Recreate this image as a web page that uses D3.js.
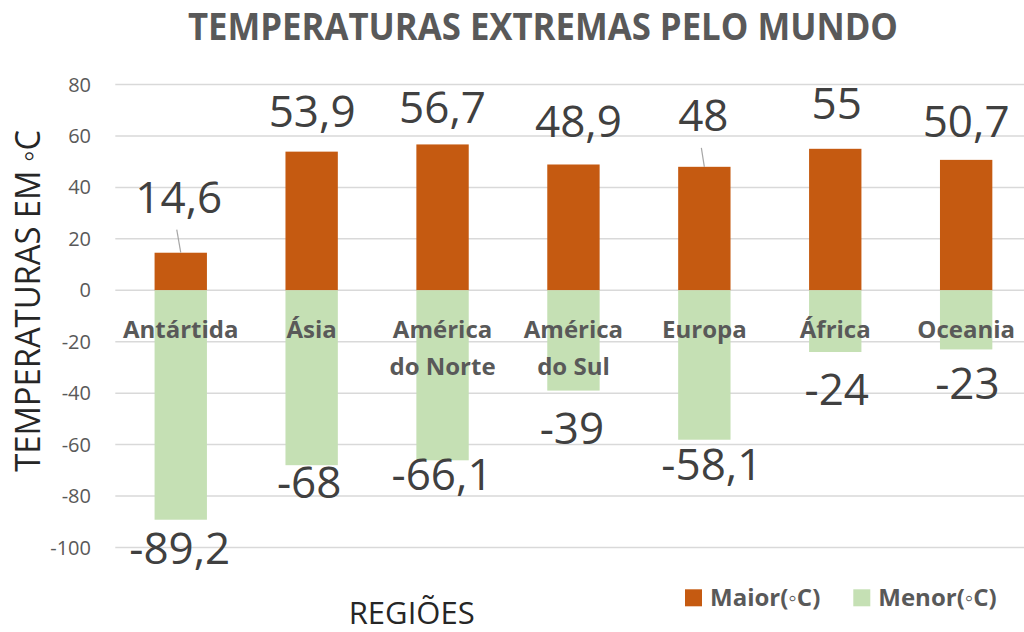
<!DOCTYPE html>
<html>
<head>
<meta charset="utf-8">
<script src="https://cdn.jsdelivr.net/npm/d3@7"></script>
<style>
  html, body { margin: 0; padding: 0; background: #fff; }
  svg { display: block; font-family: "Open Sans", sans-serif; }
</style>
</head>
<body>
<svg id="chart" width="1024" height="632"></svg>
<script>
// ---- data ----
const categories = ["Antártida", "Ásia", "América do Norte", "América do Sul", "Europa", "África", "Oceania"];
const maior = [14.6, 53.9, 56.7, 48.9, 48, 55, 50.7];
const menor = [-89.2, -68, -66.1, -39, -58.1, -24, -23];
const yTicks = [-100, -80, -60, -40, -20, 0, 20, 40, 60, 80];
const seriesNames = ["Maior(◦C)", "Menor(◦C)"];
const titleText = "TEMPERATURAS EXTREMAS PELO MUNDO";
const yTitle = "TEMPERATURAS EM ◦C";
const xTitle = "REGIÕES";

// ---- layout (manual data-label placement, as in the original) ----
const posDy = [40, 24.5, 21.5, 27.5, 36, 29.5, 22.5];
const posDx = [-2, 0.5, 0, 5, -1, 1.5, 0];
const negDy = [44.5, 33, 30, 53, 40, 53, 50];
const negDx = [-1, -2.5, -0.5, -1.5, 7.5, 1.5, 1.3];

const colors = { maior: "#C55A11", menor: "#C5E0B4", grid: "#D9D9D9", axisText: "#595959", label: "#404040" };
const loc = d3.formatLocale({ decimal: ",", thousands: ".", grouping: [3], currency: ["", ""], minus: "-" });
const fmt = v => loc.format("")(v);

const svg = d3.select("#chart");
const x = d3.scaleBand().domain(categories).range([115.3, 1031.6]).paddingInner(0.6).paddingOuter(0.3);
const y = d3.scaleLinear().domain([-100, 80]).range([547.5, 84.5]);

// gridlines
svg.append("g").selectAll("line").data(yTicks).join("line")
  .attr("x1", 115.3).attr("x2", 1031.6)
  .attr("y1", d => y(d)).attr("y2", d => y(d))
  .attr("stroke", colors.grid).attr("stroke-width", 1.5);

// y tick labels
svg.append("g").selectAll("text").data(yTicks).join("text")
  .attr("x", 91).attr("y", d => y(d)).attr("dy", "0.35em")
  .attr("text-anchor", "end").attr("font-size", 20).attr("fill", colors.axisText)
  .text(d => d);

// bars
svg.append("g").selectAll("rect").data(maior).join("rect")
  .attr("x", (d, i) => x(categories[i])).attr("width", x.bandwidth())
  .attr("y", d => y(d)).attr("height", d => y(0) - y(d))
  .attr("fill", colors.maior);
svg.append("g").selectAll("rect").data(menor).join("rect")
  .attr("x", (d, i) => x(categories[i])).attr("width", x.bandwidth())
  .attr("y", y(0)).attr("height", d => y(d) - y(0))
  .attr("fill", colors.menor);

// category labels (at the zero line)
const catG = svg.append("g");
categories.forEach(c => {
  const words = c.split(" ");
  const lines = words.length > 1 ? [words[0], words.slice(1).join(" ")] : [c];
  const t = catG.append("text").attr("text-anchor", "middle")
    .attr("font-size", 24).attr("font-weight", "bold").attr("fill", colors.axisText);
  lines.forEach((ln, k) => {
    t.append("tspan").attr("x", x(c) + x.bandwidth() / 2).attr("y", 338.3 + k * 36.7).text(ln);
  });
});

// data labels
const cx = i => x(categories[i]) + x.bandwidth() / 2;
const lblG = svg.append("g");
maior.forEach((v, i) => {
  const bx = cx(i), by = y(v);
  const lx = bx + posDx[i], ly = by - posDy[i];
  if (posDy[i] > 32) {
    lblG.append("line").attr("x1", lx - 2).attr("y1", ly + 17).attr("x2", bx).attr("y2", by)
      .attr("stroke", "#A6A6A6").attr("stroke-width", 1.2);
  }
  lblG.append("text").attr("x", lx).attr("y", ly).attr("text-anchor", "middle")
    .attr("font-size", 44).attr("fill", colors.label).text(fmt(v));
});
menor.forEach((v, i) => {
  const bx = cx(i), by = y(v);
  lblG.append("text").attr("x", bx + negDx[i]).attr("y", by + negDy[i]).attr("text-anchor", "middle")
    .attr("font-size", 44).attr("fill", colors.label).text(fmt(v));
});

// title
svg.append("text").attr("x", 543).attr("y", 40).attr("text-anchor", "middle")
  .attr("font-size", 38).attr("font-weight", "bold").attr("fill", colors.axisText)
  .attr("textLength", 710).attr("lengthAdjust", "spacingAndGlyphs")
  .text(titleText);

// axis titles
svg.append("text").attr("transform", "translate(40,300.8) rotate(-90)").attr("text-anchor", "middle")
  .attr("font-size", 34).attr("fill", "#262626")
  .attr("textLength", 342).attr("lengthAdjust", "spacingAndGlyphs")
  .text(yTitle);
svg.append("text").attr("x", 411.7).attr("y", 624).attr("text-anchor", "middle")
  .attr("font-size", 31).attr("fill", "#262626").text(xTitle);

// legend
const legend = [
  { name: seriesNames[0], color: colors.maior, x: 685 },
  { name: seriesNames[1], color: colors.menor, x: 853.3 }
];
const lg = svg.append("g");
legend.forEach(l => {
  lg.append("rect").attr("x", l.x).attr("y", 589.3).attr("width", 17).attr("height", 17).attr("fill", l.color);
  lg.append("text").attr("x", l.x + 25).attr("y", 605.7).attr("font-size", 24).attr("font-weight", "bold")
    .attr("fill", colors.axisText).text(l.name);
});
</script>
</body>
</html>
